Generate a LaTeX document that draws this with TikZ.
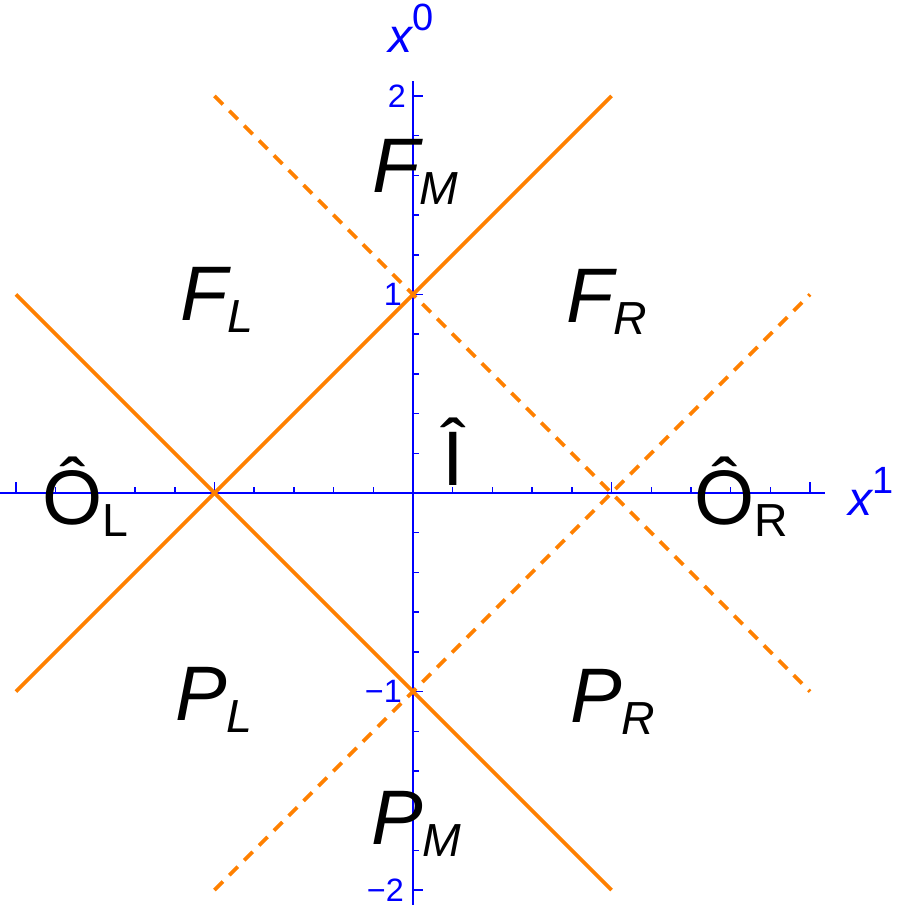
\documentclass[tikz,border=0pt]{standalone}
\usepackage{fontspec}
\setmainfont{Liberation Sans}
\definecolor{orng}{rgb}{1,0.5,0}
\newcommand\regsub[2]{#1\raisebox{-3mm}{\fontsize{33}{33}\selectfont #2}}
\tikzset{
  orangeline/.style={draw=orng, line width=2.6pt},
  dashline/.style={orangeline, dash pattern=on 3mm off 2.25mm},
  axisline/.style={draw=blue, line width=1.4pt},
  tickline/.style={draw=blue, line width=1pt},
  ticklabel/.style={text=blue, font=\fontsize{23}{23}\selectfont, inner sep=0pt, anchor=east},
  axislabel/.style={text=blue, font=\fontsize{34}{34}\selectfont, inner sep=0pt, anchor=base west},
  region/.style={inner sep=0pt, anchor=base west, font=\fontsize{55}{55}\selectfont},
}
\begin{document}
\begin{tikzpicture}[x=4.9625cm, y=4.9625cm]
\useasboundingbox (-2.0806,-2.1108) rectangle (2.4534,2.4836);
% axes
\coordinate (hl) at (-2.0806,0);
\coordinate (hr) at (2.075,0);
\coordinate (vb) at (0,-2.075);
\coordinate (vt) at (0,2.075);
\draw[axisline] (hl) -- (hr);
\draw[axisline] (vb) -- (vt);
\foreach \i in {-10,...,10}{
  \pgfmathsetmacro\t{\i*0.2}
  \ifnum\i=0\else
  \pgfmathtruncatemacro\m{abs(mod(\i,5))}
  \ifnum\m=0
    \draw[tickline] (\t,0) -- ++(0,0.055);
    \draw[tickline] (0,\t) -- ++(0.05,0);
  \else
    \draw[tickline] (\t,0) -- ++(0,0.03);
    \draw[tickline] (0,\t) -- ++(0.03,0);
  \fi
  \fi
}
\node[ticklabel] (t2) at (-0.035,2) {2};
\node[ticklabel] (t1) at (-0.055,1) {1};
\node[ticklabel] (tm1) at (-0.055,-1) {−1};
\node[ticklabel] (tm2) at (-0.045,-2) {−2};
\node[axislabel] (x0) at (-0.126,2.217) {\itshape x\raisebox{5.5mm}{\upshape\fontsize{27}{27}\selectfont 0}};
\node[axislabel] (x1) at (2.191,-0.111) {\itshape x\raisebox{5.5mm}{\upshape\fontsize{27}{27}\selectfont 1}};
% light-cone lines
\coordinate (s1a) at (-2,1);
\coordinate (s1b) at (1,-2);
\coordinate (s2a) at (-2,-1);
\coordinate (s2b) at (1,2);
\coordinate (d1a) at (-1,2);
\coordinate (d1b) at (2,-1);
\coordinate (d2a) at (-1,-2);
\coordinate (d2b) at (2,1);
\draw[dashline] (d1a) -- (d1b);
\draw[dashline] (d2a) -- (d2b);
\draw[orangeline] (s1a) -- (s1b);
\draw[orangeline] (s2a) -- (s2b);
% region labels
\node[region] (FM) at (-0.2066,1.516) {\itshape\regsub{F}{M}};
\node[region] (FL) at (-1.174,0.871) {\itshape\regsub{F}{L}};
\node[region] (FR) at (0.771,0.861) {\itshape\regsub{F}{R}};
\node[region] (PL) at (-1.199,-1.144) {\itshape\regsub{P}{L}};
\node[region] (PR) at (0.791,-1.154) {\itshape\regsub{P}{R}};
\node[region] (PM) at (-0.2116,-1.773) {\itshape\regsub{P}{M}};
\node[region] (OL) at (-1.869,-0.161) {\regsub{Ô}{L}};
\node[region] (OR) at (1.416,-0.161) {\regsub{Ô}{R}};
\node[region, anchor=base] (I) at (0.2015,0.0403) {Î};
\end{tikzpicture}
\end{document}
